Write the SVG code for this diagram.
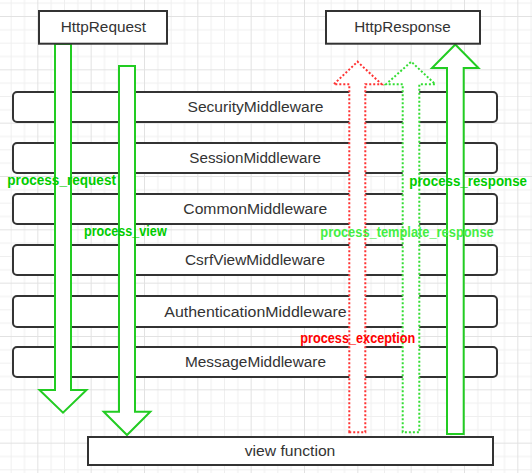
<svg xmlns="http://www.w3.org/2000/svg" width="532" height="473" viewBox="0 0 532 473">
<defs>
<pattern id="grid" patternUnits="userSpaceOnUse" x="37.333" y="16" width="53.333" height="53.333">
<rect x="13.333" y="0" width="1" height="53.333" fill="#efefef"/>
<rect x="26.667" y="0" width="1" height="53.333" fill="#efefef"/>
<rect x="40" y="0" width="1" height="53.333" fill="#efefef"/>
<rect x="0" y="13.333" width="53.333" height="1" fill="#efefef"/>
<rect x="0" y="26.667" width="53.333" height="1" fill="#efefef"/>
<rect x="0" y="40" width="53.333" height="1" fill="#efefef"/>
<rect x="0" y="0" width="1" height="53.333" fill="#e2e2e2"/>
<rect x="0" y="0" width="53.333" height="1" fill="#e2e2e2"/>
</pattern>
<style>
.mw{fill:#fff;stroke:#333;stroke-width:2}
.box{fill:#fff;stroke:#333;stroke-width:2}
.t{font-family:"Liberation Sans",Arial,sans-serif;font-size:15.5px;fill:#333;text-anchor:middle}
.lbl{font-family:"Liberation Sans",Arial,sans-serif;font-size:14.5px;font-weight:bold}
.solid{fill:#fff;stroke:#22cc22;stroke-width:2}
.dotr{fill:#fff;stroke:#ff3333;stroke-width:2;stroke-dasharray:2 2}
.dotg{fill:#fff;stroke:#33dd33;stroke-width:2;stroke-dasharray:2 2}
</style>
</defs>
<rect width="532" height="473" fill="#fff"/>
<rect width="532" height="473" fill="url(#grid)"/>

<g id="SecurityMiddleware"><rect class="mw" x="13" y="92" width="484" height="30" rx="4"/><text class="t" x="255.5" y="112.3" textLength="136" lengthAdjust="spacingAndGlyphs">SecurityMiddleware</text></g>
<g id="SessionMiddleware"><rect class="mw" x="13" y="143" width="484" height="30" rx="4"/><text class="t" x="255.2" y="162.7" textLength="131.7" lengthAdjust="spacingAndGlyphs">SessionMiddleware</text></g>
<g id="CommonMiddleware"><rect class="mw" x="13" y="194" width="484" height="30" rx="4"/><text class="t" x="255.3" y="214" textLength="144" lengthAdjust="spacingAndGlyphs">CommonMiddleware</text></g>
<g id="CsrfViewMiddleware"><rect class="mw" x="13" y="245" width="484" height="30" rx="4"/><text class="t" x="255" y="265" textLength="140" lengthAdjust="spacingAndGlyphs">CsrfViewMiddleware</text></g>
<g id="AuthenticationMiddleware"><rect class="mw" x="13" y="296" width="484" height="31" rx="4"/><text class="t" x="255.5" y="316.7" textLength="182.3" lengthAdjust="spacingAndGlyphs">AuthenticationMiddleware</text></g>
<g id="MessageMiddleware"><rect class="mw" x="13" y="347" width="484" height="30" rx="4"/><text class="t" x="255.5" y="366.7" textLength="141" lengthAdjust="spacingAndGlyphs">MessageMiddleware</text></g>

<g id="connectors">
<path class="solid" d="M55,44 V390 H39.5 L63,412.7 L86.5,390 H71 V44 Z"/>
<path class="solid" d="M119,66 V411.7 H103.7 L127,435 L150.3,411.7 H135 V66 Z"/>
<path class="solid" d="M447,434 V68 H432 L455.3,44.5 L478.5,68 H463.7 V434 Z"/>
<path class="dotr" d="M349.3,432.3 V84.3 H333.7 L357.5,61.7 L381.7,84.3 H365.3 V432.3 Z"/>
<path class="dotg" d="M402.7,432.3 V84.3 H386 L411.3,61.7 L435.3,84.3 H419.3 V432.3 Z"/>
</g>

<g id="HttpRequest"><rect class="box" x="39" y="11" width="128" height="32.7"/><text class="t" x="103.3" y="32" textLength="85.3" lengthAdjust="spacingAndGlyphs">HttpRequest</text></g>
<g id="HttpResponse"><rect class="box" x="326" y="11" width="154" height="32.7"/><text class="t" x="402.5" y="32" textLength="96.3" lengthAdjust="spacingAndGlyphs">HttpResponse</text></g>
<g id="view_function"><rect class="box" x="88" y="437" width="405" height="28"/><text class="t" x="290" y="456" textLength="90.7" lengthAdjust="spacingAndGlyphs">view function</text></g>

<g id="labels">
<text class="lbl" x="7.3" y="185" fill="#00cc00" textLength="108.7" lengthAdjust="spacingAndGlyphs">process_request</text>
<text class="lbl" x="84" y="236" fill="#00cc00" textLength="82.7" lengthAdjust="spacingAndGlyphs">process_view</text>
<text class="lbl" x="409.3" y="186" fill="#00cc00" textLength="117.7" lengthAdjust="spacingAndGlyphs">process_response</text>
<text class="lbl" x="320.3" y="237.3" fill="#44ee44" textLength="173.4" lengthAdjust="spacingAndGlyphs">process_template_response</text>
<text class="lbl" x="300.3" y="342.7" fill="#ff0000" textLength="115" lengthAdjust="spacingAndGlyphs">process_exception</text>
</g>
</svg>
